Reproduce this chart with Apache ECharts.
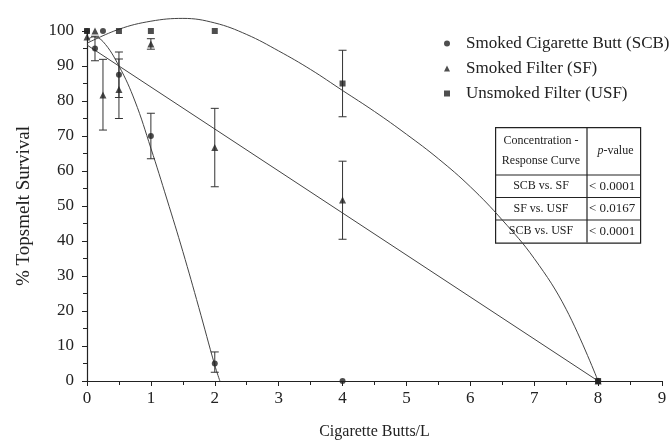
<!DOCTYPE html>
<html>
<head>
<meta charset="utf-8">
<script src="https://cdn.jsdelivr.net/npm/echarts@6/dist/echarts.min.js"></script>
<style>html,body{margin:0;padding:0;background:#fff}#c{width:671px;height:443px}</style>
</head>
<body>
<div id="c"></div>
<script>
// ---- data ----
const xTicks = [0,1,2,3,4,5,6,7,8,9];
const yTicks = [0,10,20,30,40,50,60,70,80,90,100];

const scbX = [0, 0.125, 0.25, 0.5, 1, 2, 4, 8];
const scbY = [100, 95, 100, 87.5, 70, 5, 0, 0];
const sfX  = [0, 0.125, 0.25, 0.5, 1, 2, 4, 8];
const sfY  = [98.3, 100, 81.7, 83.3, 96.3, 66.7, 51.7, 0];
const usfX = [0, 0.5, 1, 2, 4, 8];
const usfY = [100, 100, 100, 100, 85, 0];

// error bars: [x, low, high]
const scbErr = [[0.125, 91.5, 98.5], [0.5, 81, 94], [1, 63.5, 76.5], [2, 2.5, 8.3]];
const sfErr  = [[0.25, 71.7, 91.9], [0.5, 75, 92], [1, 94.8, 97.8], [2, 55.5, 77.9], [4, 40.5, 62.8]];
const usfErr = [[4, 75.5, 94.5]];

// fitted curves
const scbFitX = [0, 0.1, 0.25, 0.5, 0.75, 1, 1.25, 1.5, 1.75, 2, 2.08];
const scbFitY = [97.5, 98.3, 97, 90, 80, 66.5, 52, 37, 21, 4.5, 0];
const sfFitX  = [0, 8];
const sfFitY  = [96, 0];
const usfFitX = [0, 0.5, 1, 1.5, 2, 2.5, 3, 3.5, 4, 4.5, 5, 5.5, 6, 6.5, 7, 7.5, 8];
const usfFitY = [96.5, 100.5, 102.8, 103.6, 102.3, 99, 94.3, 89, 83, 77, 70.5, 63.5, 55.5, 46, 35, 20.5, 0];

const seriesNames = ['Smoked Cigarette Butt (SCB)', 'Smoked Filter (SF)', 'Unsmoked Filter (USF)'];
const tableHeader = [['Concentration -', 'Response Curve'], 'p-value'];
const tableRows = [['SCB vs. SF', '< 0.0001'], ['SF vs. USF', '< 0.0167'], ['SCB vs. USF', '< 0.0001']];

// ---- chart ----
const ink = '#222';
const font = 'Liberation Serif, Times New Roman, serif';
const zip = (xs, ys) => xs.map((x, i) => [x, ys[i]]);

function errRender(params, api) {
  const x = api.value(0), lo = api.value(1), hi = api.value(2);
  const a = api.coord([x, lo]), b = api.coord([x, hi]);
  const w = 4;
  const st = {stroke: '#333', lineWidth: 1};
  return {type: 'group', children: [
    {type: 'line', shape: {x1: a[0], y1: a[1], x2: b[0], y2: b[1]}, style: st},
    {type: 'line', shape: {x1: a[0]-w, y1: a[1], x2: a[0]+w, y2: a[1]}, style: st},
    {type: 'line', shape: {x1: b[0]-w, y1: b[1], x2: b[0]+w, y2: b[1]}, style: st}
  ]};
}
function errSeries(data) {
  return {type: 'custom', renderItem: errRender, data: data, z: 3, silent: true,
    encode: {x: 0, y: [1, 2]}, clip: false};
}
function fitSeries(xs, ys, smooth) {
  return {type: 'line', data: zip(xs, ys), smooth: smooth, symbol: 'none', clip: false,
    lineStyle: {color: '#444', width: 1}, z: 2, silent: true};
}
function dotSeries(name, xs, ys, symbol, size) {
  return {type: 'scatter', name: name, data: zip(xs, ys), symbol: symbol, symbolSize: size,
    itemStyle: {color: ink}, z: 5, clip: false};
}

// table drawn as graphic
const tL = 495, tT = 127, tW = 145, c1 = 92, hH = 48, rH = 22.5;
const tableEls = [];
const lineSt = {stroke: ink, lineWidth: 1.2};
tableEls.push({type: 'rect', left: tL, top: tT, shape: {width: tW, height: hH + rH * 3}, style: {fill: '#fff', stroke: ink, lineWidth: 1.2}});
tableEls.push({type: 'line', shape: {x1: tL + c1, y1: tT, x2: tL + c1, y2: tT + hH + rH * 3}, style: lineSt});
for (let i = 0; i < 3; i++) {
  const y = tT + hH + rH * i;
  tableEls.push({type: 'line', shape: {x1: tL, y1: y, x2: tL + tW, y2: y}, style: lineSt});
}
const tStyle = {fill: ink, font: '12px ' + font, align: 'center', verticalAlign: 'middle'};
const vStyle = {fill: ink, font: '13px ' + font, align: 'left', verticalAlign: 'middle'};
tableEls.push({type: 'text', x: tL + c1 / 2, y: tT + 14, style: Object.assign({text: tableHeader[0][0]}, tStyle)});
tableEls.push({type: 'text', x: tL + c1 / 2, y: tT + 34, style: Object.assign({text: tableHeader[0][1]}, tStyle)});
tableEls.push({type: 'text', x: tL + c1 + (tW - c1) / 2 + 2, y: tT + hH / 2, style: Object.assign({
  text: '{i|' + tableHeader[1].slice(0, 1) + '}' + tableHeader[1].slice(1),
  rich: {i: {fontStyle: 'italic', fontFamily: font, fontSize: 12, fill: ink}}}, tStyle)});
tableRows.forEach((r, i) => {
  const y = tT + hH + rH * i + rH / 2;
  tableEls.push({type: 'text', x: tL + c1 / 2, y: y, style: Object.assign({text: r[0]}, tStyle)});
  tableEls.push({type: 'text', x: tL + c1 + 2, y: y, style: Object.assign({text: r[1]}, vStyle)});
});

const chart = echarts.init(document.getElementById('c'), null, {renderer: 'canvas'});
chart.setOption({
  animation: false,
  backgroundColor: '#fff',
  textStyle: {fontFamily: font},
  grid: {left: 87, right: 9, top: 31, bottom: 62, outerBoundsMode: 'none'},
  legend: {
    data: [{name: seriesNames[0], icon: 'circle'}, {name: seriesNames[1], icon: 'triangle'}, {name: seriesNames[2], icon: 'rect'}],
    orient: 'vertical', left: 439, top: 30, itemWidth: 6, itemHeight: 6, itemGap: 8,
    selectedMode: false,
    textStyle: {fontFamily: font, fontSize: 17, color: ink, lineHeight: 17, padding: [0, 0, 0, 11]}
  },
  xAxis: {
    type: 'value', min: 0, max: 9, interval: 1,
    name: 'Cigarette Butts/L', nameLocation: 'middle', nameGap: 43,
    nameTextStyle: {fontFamily: font, fontSize: 16, color: ink},
    axisLine: {onZero: false, lineStyle: {color: ink, width: 1.2}},
    axisTick: {show: true, length: 5, lineStyle: {color: ink}},
    minorTick: {show: true, splitNumber: 2, length: 4, lineStyle: {color: ink}},
    axisLabel: {fontFamily: font, fontSize: 17, color: ink, margin: 9,
      formatter: v => xTicks.indexOf(v) >= 0 ? String(v) : ''},
    splitLine: {show: false}
  },
  yAxis: {
    type: 'value', min: 0, max: 100, interval: 10,
    name: '% Topsmelt Survival', nameLocation: 'middle', nameGap: 53, nameRotate: 90,
    nameTextStyle: {fontFamily: font, fontSize: 19, color: ink},
    axisLine: {show: true, onZero: false, lineStyle: {color: ink, width: 1.2}},
    axisTick: {show: true, length: 5, lineStyle: {color: ink}},
    minorTick: {show: true, splitNumber: 2, length: 4, lineStyle: {color: ink}},
    axisLabel: {fontFamily: font, fontSize: 17, color: ink, margin: 13,
      formatter: v => yTicks.indexOf(v) >= 0 ? String(v) : ''},
    splitLine: {show: false}
  },
  graphic: tableEls,
  series: [
    fitSeries(scbFitX, scbFitY, 0.4),
    fitSeries(sfFitX, sfFitY, false),
    fitSeries(usfFitX, usfFitY, 0.4),
    errSeries(scbErr), errSeries(sfErr), errSeries(usfErr),
    dotSeries(seriesNames[0], scbX, scbY, 'circle', 6),
    dotSeries(seriesNames[1], sfX, sfY, 'triangle', 7),
    dotSeries(seriesNames[2], usfX, usfY, 'rect', 6)
  ]
});
</script>
</body>
</html>
